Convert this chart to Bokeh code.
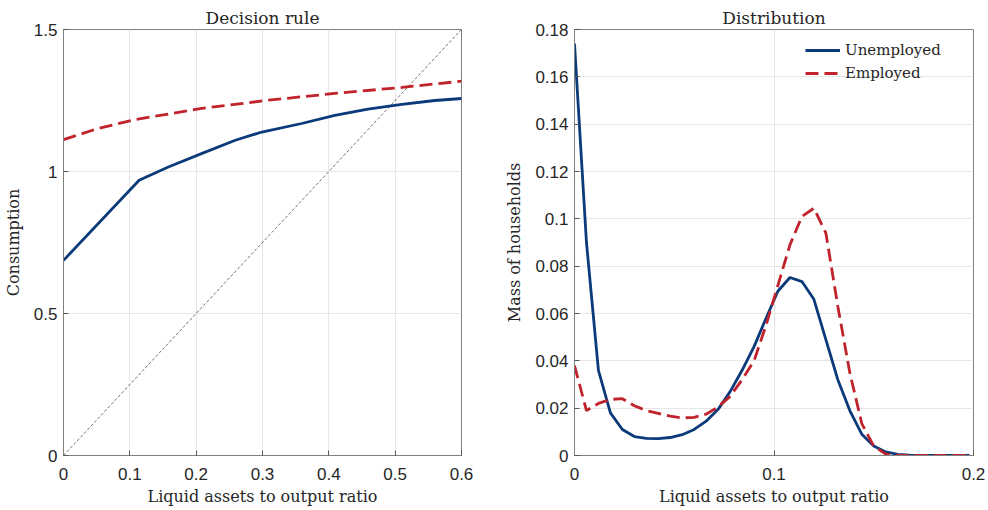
from bokeh.plotting import figure
from bokeh.layouts import row
from bokeh.models import Range1d, FixedTicker, CustomJSTickFormatter, Legend, LegendItem
from bokeh.embed import file_html
from bokeh.resources import INLINE

# ---- Decision rule data ----
rule_x_unemp = [0, 0.114, 0.158, 0.208, 0.259, 0.299, 0.359, 0.409, 0.459, 0.510, 0.560, 0.6]
rule_c_unemp = [0.687, 0.969, 1.016, 1.063, 1.110, 1.139, 1.169, 1.198, 1.220, 1.236, 1.250, 1.257]
rule_x_emp = [0, 0.05, 0.108, 0.208, 0.309, 0.409, 0.510, 0.6]
rule_c_emp = [1.112, 1.150, 1.183, 1.222, 1.251, 1.275, 1.296, 1.318]
diag_x = [0, 0.6]
diag_y = [0, 1.5]

# ---- Distribution data ----
dist_x = [0, 0.006, 0.012, 0.018, 0.024, 0.030, 0.036, 0.042, 0.048, 0.054,
          0.060, 0.066, 0.072, 0.078, 0.084, 0.090, 0.096, 0.102, 0.108, 0.114,
          0.120, 0.126, 0.132, 0.138, 0.144, 0.150, 0.156, 0.162, 0.168, 0.174,
          0.180, 0.186, 0.192, 0.198]
mass_unemp = [0.174, 0.090, 0.036, 0.018, 0.011, 0.008, 0.0072, 0.0071, 0.0076, 0.0088,
              0.0110, 0.0145, 0.0195, 0.027, 0.036, 0.046, 0.058, 0.0695, 0.0752, 0.0735,
              0.066, 0.049, 0.032, 0.019, 0.009, 0.004, 0.0015, 0.0005, 0.0001, 0.0,
              0.0, 0.0, 0.0, 0.0]
mass_emp = [0.038, 0.019, 0.022, 0.0237, 0.024, 0.021, 0.019, 0.0178, 0.0166, 0.0159,
            0.0161, 0.0175, 0.0205, 0.025, 0.032, 0.040, 0.055, 0.072, 0.089, 0.101,
            0.1045, 0.094, 0.063, 0.035, 0.0135, 0.004, 0.0006, 0.0, 0.0, 0.0,
            0.0, 0.0, 0.0, 0.0]

left_xticks = [0, 0.1, 0.2, 0.3, 0.4, 0.5, 0.6]
left_yticks = [0, 0.5, 1, 1.5]
right_xticks = [0, 0.1, 0.2]
right_yticks = [0, 0.02, 0.04, 0.06, 0.08, 0.1, 0.12, 0.14, 0.16, 0.18]

BLUE = "#0b3a7a"
RED = "#c0232b"
SERIF = "DejaVu Serif"
SANS = "Liberation Sans"
fmt_code = "return String(Math.round(tick*1000)/1000);"


def style(p, xticks, yticks, xlabel, ylabel):
    p.xaxis.ticker = FixedTicker(ticks=xticks)
    p.yaxis.ticker = FixedTicker(ticks=yticks)
    for ax in (p.xaxis[0], p.yaxis[0]):
        ax.formatter = CustomJSTickFormatter(code=fmt_code)
        ax.major_label_text_font = SANS
        ax.major_label_text_font_size = "17px"
        ax.major_label_text_color = "#262626"
        ax.axis_label_text_font = SERIF
        ax.axis_label_text_font_size = "16px"
        ax.axis_label_text_font_style = "normal"
        ax.axis_label_text_color = "#262626"
        ax.major_tick_in = 5
        ax.major_tick_out = 0
        ax.minor_tick_line_color = None
        ax.axis_line_color = "#7f7f7f"
        ax.major_tick_line_color = "#555555"
    p.xaxis.axis_label = xlabel
    p.yaxis.axis_label = ylabel
    p.xaxis.major_label_standoff = 12
    p.yaxis.major_label_standoff = 6
    p.xaxis.axis_label_standoff = 4
    p.yaxis.axis_label_standoff = 8
    p.grid.grid_line_color = "#e6e6e6"
    p.grid.grid_line_width = 1
    p.outline_line_color = "#7f7f7f"
    p.title.align = "center"
    p.title.text_font = SERIF
    p.title.text_font_size = "17px"
    p.title.text_font_style = "normal"
    p.title.text_color = "#262626"
    p.title.standoff = 4


p1 = figure(frame_width=398, frame_height=426, output_backend="svg", toolbar_location=None,
            x_range=Range1d(0, 0.6), y_range=Range1d(0, 1.5), title="Decision rule",
            min_border_left=62, min_border_right=30, min_border_top=29, min_border_bottom=52)
style(p1, left_xticks, left_yticks, "Liquid assets to output ratio", "Consumption")
p1.line(diag_x, diag_y, line_color="#333333", line_width=0.7, line_dash="3 2")
p1.line(rule_x_emp, rule_c_emp, line_color=RED, line_width=2.8, line_dash="13 6")
p1.line(rule_x_unemp, rule_c_unemp, line_color=BLUE, line_width=2.8)

p2 = figure(frame_width=399, frame_height=426, output_backend="svg", toolbar_location=None,
            x_range=Range1d(0, 0.2), y_range=Range1d(0, 0.18), title="Distribution",
            min_border_left=83, min_border_right=14, min_border_top=29, min_border_bottom=52)
style(p2, right_xticks, right_yticks, "Liquid assets to output ratio", "Mass of households")
r_u = p2.line(dist_x, mass_unemp, line_color=BLUE, line_width=2.8)
r_e = p2.line(dist_x, mass_emp, line_color=RED, line_width=2.8, line_dash="13 6")
legend = Legend(items=[LegendItem(label="Unemployed", renderers=[r_u]),
                       LegendItem(label="Employed", renderers=[r_e])],
                location="top_right", margin=11, padding=4, spacing=3,
                glyph_width=35, label_width=117, label_standoff=5,
                label_text_font=SERIF, label_text_font_size="15px",
                label_text_color="#262626",
                border_line_color=None, background_fill_alpha=0)
p2.add_layout(legend, "center")

layout = row(p1, p2)
open("out.html", "w").write(file_html(layout, INLINE))
